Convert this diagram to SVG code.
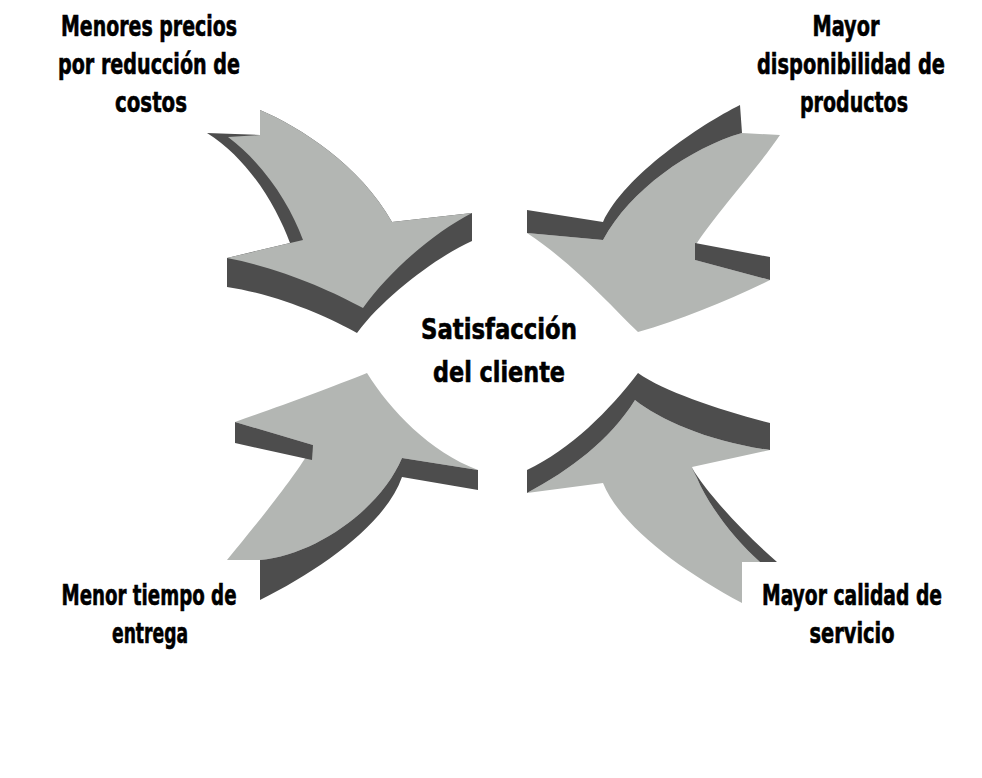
<svg xmlns="http://www.w3.org/2000/svg" width="982" height="778" viewBox="0 0 982 778">
  <style>
    .face { fill: #b3b6b3; }
    .side { fill: #4d4d4d; }
    .lbl { font-family: "Liberation Sans Narrow", "DejaVu Sans Condensed", "Liberation Sans", sans-serif; font-weight: bold; font-size: 29px; fill: #000; stroke: #000; stroke-width: 0.6; text-anchor: middle; }
  </style>
  <rect width="982" height="778" fill="#ffffff"/>

  <!-- four 3D arrows converging on the centre -->
  <g id="connectors">
    <g id="arrow-top-left">
      <path class="side" d="M207,133 L260,135 L260,110 C300,127 360,165 392,222 L472,213 L472,241 C440,255 385,295 357,333 C330,318 280,295 227,287 L227,258 L290,243 C277,208 250,160 207,133 Z"/>
      <path class="face" d="M260,110 C300,127 360,165 392,222 L472,213 C435,232 390,270 363,308 C330,290 280,268 227,258 L303,240 C290,205 265,165 228,137 L260,135 Z"/>
    </g>
    <g id="arrow-top-right">
      <path class="face" d="M742,133 L780,135 C760,165 715,215 697,243 L695,260 L770,280 C730,300 680,320 638,332 C610,305 575,265 527,233 L603,240 C630,190 690,148 742,133 Z"/>
      <path class="side" d="M740,105 C700,125 625,175 603,222 L527,210 L527,233 L603,240 C630,190 690,148 742,133 Z"/>
      <path class="side" d="M695,243 L770,257 L770,280 L695,260 Z"/>
    </g>
    <g id="arrow-bottom-left">
      <path class="face" d="M367,373 C330,388 275,408 235,422 L313,445 C300,470 260,520 227,560 L260,560 C315,555 380,510 402,458 L478,470 C430,452 390,410 367,373 Z"/>
      <path class="side" d="M235,422 L313,445 L312,460 L235,443 Z"/>
      <path class="side" d="M260,560 C315,555 380,510 402,458 L478,470 L478,490 L402,477 C385,525 320,570 260,600 Z"/>
    </g>
    <g id="arrow-bottom-right">
      <path class="face" d="M635,400 C660,420 710,442 770,450 L692,467 L697,478 C708,505 735,540 760,562 L742,562 L742,603 C680,570 620,525 603,483 L527,493 C570,470 610,440 635,400 Z"/>
      <path class="side" d="M638,373 C665,392 720,410 770,423 L770,450 C710,442 660,420 635,400 C610,440 570,470 527,493 L527,470 C570,450 610,410 638,373 Z"/>
      <path class="side" d="M692,468 C705,490 740,530 777,562 L760,562 C735,540 708,505 697,478 Z"/>
    </g>
  </g>

  <g id="node-center">
    <text class="lbl" x="499" y="339" textLength="156" lengthAdjust="spacingAndGlyphs">Satisfacción</text>
    <text class="lbl" x="499" y="382" textLength="132" lengthAdjust="spacingAndGlyphs">del cliente</text>
  </g>
  <g id="node-precios">
    <text class="lbl" x="149" y="36" textLength="176" lengthAdjust="spacingAndGlyphs">Menores precios</text>
    <text class="lbl" x="149" y="74" textLength="182" lengthAdjust="spacingAndGlyphs">por reducción de</text>
    <text class="lbl" x="151" y="112" textLength="72" lengthAdjust="spacingAndGlyphs">costos</text>
  </g>
  <g id="node-disponibilidad">
    <text class="lbl" x="846" y="36" textLength="67" lengthAdjust="spacingAndGlyphs">Mayor</text>
    <text class="lbl" x="851" y="74" textLength="188" lengthAdjust="spacingAndGlyphs">disponibilidad de</text>
    <text class="lbl" x="854" y="112" textLength="108" lengthAdjust="spacingAndGlyphs">productos</text>
  </g>
  <g id="node-entrega">
    <text class="lbl" x="149" y="605" textLength="175" lengthAdjust="spacingAndGlyphs">Menor tiempo de</text>
    <text class="lbl" x="150" y="643" textLength="76" lengthAdjust="spacingAndGlyphs">entrega</text>
  </g>
  <g id="node-calidad">
    <text class="lbl" x="852" y="605" textLength="180" lengthAdjust="spacingAndGlyphs">Mayor calidad de</text>
    <text class="lbl" x="852" y="643" textLength="85" lengthAdjust="spacingAndGlyphs">servicio</text>
  </g>
</svg>
